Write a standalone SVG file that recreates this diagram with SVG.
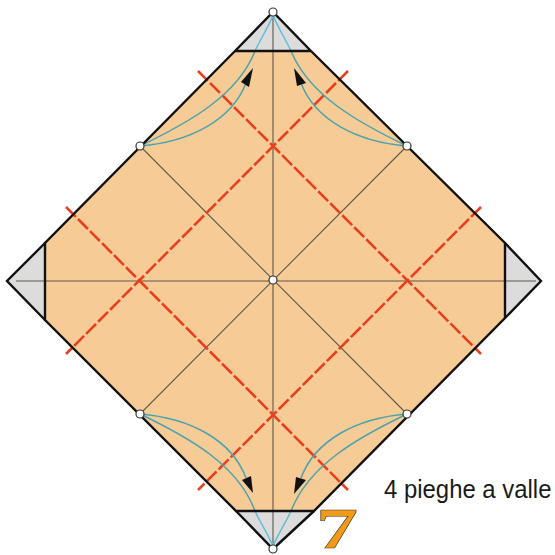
<svg xmlns="http://www.w3.org/2000/svg" width="555" height="555" viewBox="0 0 555 555">
<style>
.edge{fill:none;stroke:#111;stroke-width:2.4;stroke-linejoin:miter}
.thin{fill:none;stroke:#5f594e;stroke-width:1.1}
.fold{fill:none;stroke:#e8401f;stroke-width:2.6;stroke-dasharray:14 3}
.teal{fill:none;stroke:#4ba3ac;stroke-width:1.5}
.lite{fill:none;stroke:#62bdd6;stroke-width:1.5}
.head{fill:#111}
.pt{fill:#fff;stroke:#333;stroke-width:1.2}
.tip{fill:#dcdcdc}
</style>
<g id="paper"><path d="M235,51H311L505,243V318L314,511H236L45,320V243Z" fill="#f6cb96"/></g>
<g id="flaps">
<path class="tip" d="M273,12L311,51H235Z"/>
<path class="tip" d="M273,549L236,511H314Z"/>
<path class="tip" d="M7,281L45,243V320Z"/>
<path class="tip" d="M541,281L505,243V318Z"/>
</g>
<g id="connectors">
<path class="thin" d="M273,12V549M16,281H536M140,146L407,414M407,146L140,414"/>
<path class="fold" d="M198,71L481,354"/>
<path class="fold" d="M348,71L66,354"/>
<path class="fold" d="M66,207L348,490"/>
<path class="fold" d="M481,207L198,490"/>
<path class="teal" d="M140,146C190,122 238,95 255,51"/>
<path class="lite" d="M255,51C261,38 268,28 273,15"/>
<path class="teal" d="M407,146C357,122 309,95 291,51"/>
<path class="lite" d="M291,51C285,38 278,28 273,15"/>
<path class="teal" d="M140,414C190,438 238,465 255,511"/>
<path class="lite" d="M255,511C261,524 268,534 273,546"/>
<path class="teal" d="M407,414C357,438 309,465 291,511"/>
<path class="lite" d="M291,511C285,524 278,534 273,546"/>
<path class="teal" d="M140,146C190,142 232,120 246,83"/>
<path class="teal" d="M407,146C357,142 315,120 301,83"/>
<path class="teal" d="M140,414C190,418 232,440 246,478"/>
<path class="teal" d="M407,414C357,418 315,440 301,478"/>
<path class="head" d="M253,68L241,82L249,87Z"/>
<path class="head" d="M294,68L306,83L297,86Z"/>
<path class="head" d="M253,493L242,480L251,476Z"/>
<path class="head" d="M294,494L296,477L306,480Z"/>
<path class="edge" d="M235,51L273,12L311,51M235,51H311M311,51L505,243V318L314,511H236L45,320V243L235,51"/>
<path class="edge" d="M505,243L541,281L505,318M236,511L273,549L314,511M45,243L7,281L45,320"/>
</g>
<g id="points">
<circle class="pt" cx="273" cy="12" r="4"/>
<circle class="pt" cx="273" cy="549" r="4"/>
<circle class="pt" cx="273" cy="280" r="4"/>
<circle class="pt" cx="140" cy="146" r="4"/>
<circle class="pt" cx="407" cy="146" r="4"/>
<circle class="pt" cx="140" cy="414" r="4"/>
<circle class="pt" cx="407" cy="414" r="4"/>
</g>
<g id="labels">
<text transform="translate(384 498) scale(0.92 1)" font-family="'Liberation Sans',Arial,sans-serif" font-size="26" fill="#1a1a1a">4 pieghe a valle</text>
<text transform="translate(316 548) scale(1.45 1)" font-family="'Liberation Serif','Times New Roman',serif" font-weight="bold" font-size="58" fill="#f09a1a" stroke="#4a3a1a" stroke-width="0.5">7</text>
</g>
</svg>
